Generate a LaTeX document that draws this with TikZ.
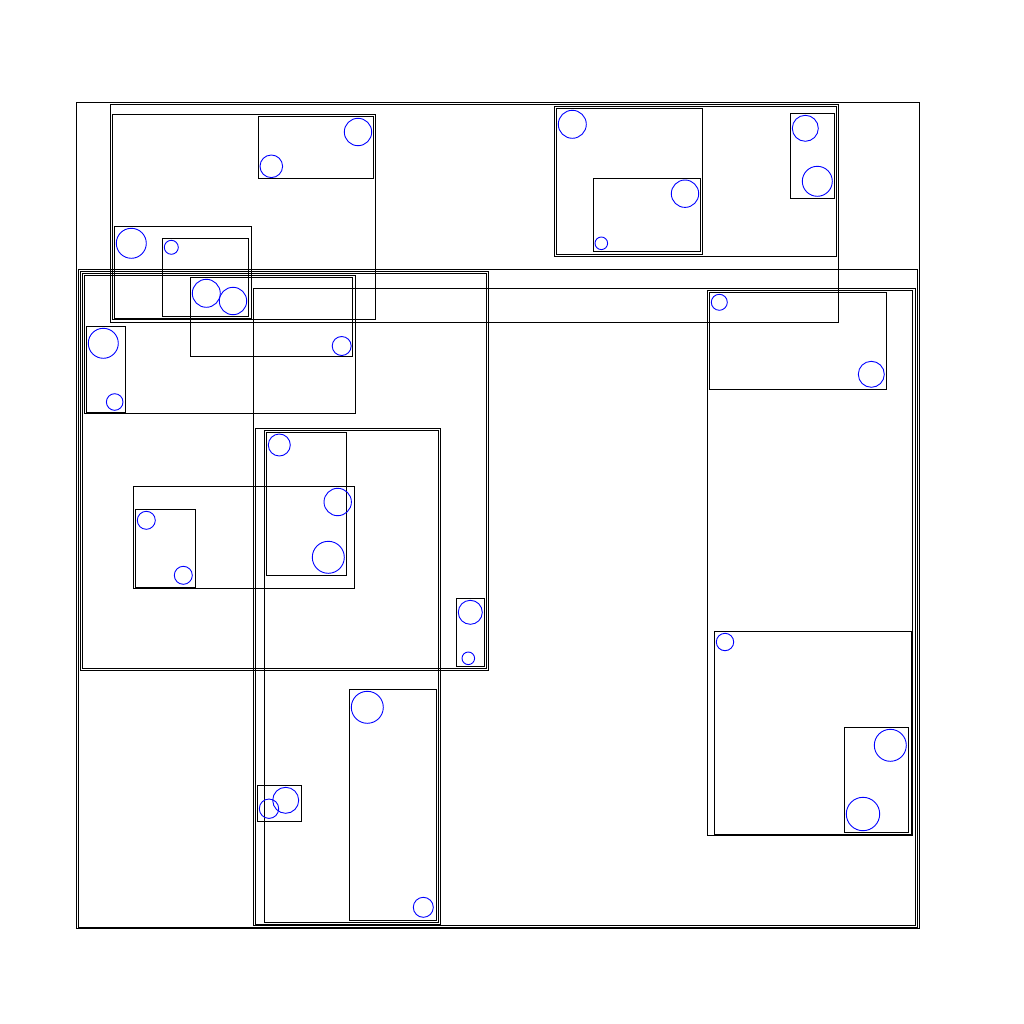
\documentclass[tikz,border=0pt]{standalone}
\begin{document}
\begin{tikzpicture}[x=1pt,y=-1pt,
  box/.style={draw=black,line width=0.9pt},
  pt/.style={draw=blue,line width=0.9pt}]
\useasboundingbox[fill=white] (0,0) rectangle (1024,1024);
% rectangles
\foreach \a/\b/\c/\d in {
 76.3/102.3/919/928.3,
 110.3/104.3/838.3/322.3,
 112.3/114.3/375.3/319.3,
 258.3/116.3/373.7/178.3,
 114.3/226.3/251.3/318.3,
 162.3/238.3/248.3/316.3,
 554.3/106.3/836.7/256,
 556.3/108.3/702.3/254.3,
 593.3/178.3/700.7/251.3,
 790.3/113.3/834.7/198.3,
 78.3/269.3/917.3/927,
 80.3/271.3/488/670,
 82.3/273.3/486.3/668.3,
 84.3/275.3/355.3/413.3,
 86.3/326.3/125.3/412.7,
 190.3/277.3/352.3/356.3,
 133.3/486.3/354.3/588.3,
 135.3/509.3/195.3/587.3,
 266.3/432.3/346.3/575.3,
 456.3/598.3/484.3/666.3,
 253.3/288.3/915.7/925.3,
 255/428.3/440.3/924.3,
 264.3/430.3/438.5/922.3,
 349.3/689.3/436.7/920.3,
 257.3/785.3/301.3/821.3,
 707.3/290.3/912.3/835.3,
 709.3/292.3/886.3/389,
 714.3/631.3/911.7/834.3,
 844.3/727.3/908.7/832.3}
 {\draw[box] (\a,\b) rectangle (\c,\d);}
% circles
\foreach \x/\y/\r in {
 358/132/13.7, 271.3/166.3/11.3, 131.3/243.3/15, 171.3/247.3/7,
 206.3/293.3/14, 233/301/13.7, 341.7/346/9.5, 103.3/343.3/15,
 114.7/402/8.3, 146.3/520.3/9, 183.3/575.3/9, 279.3/445/11,
 337.7/502/13.7, 328.3/557.3/16, 470.3/612.3/12, 468.3/658.3/6.3,
 572.3/124.3/14, 685/193.7/13.7, 601.3/243.3/6.3, 805.3/128.3/13,
 817.3/181.3/15, 719.3/302.3/8, 871.3/374.3/13, 725/642/8.7,
 890.3/745.3/16, 863/814/16.7, 367.3/707.3/16, 423.3/907.3/10,
 285.7/800.3/13, 269/808.7/9.7}
 {\draw[pt] (\x,\y) circle[radius=\r pt];}
\end{tikzpicture}
\end{document}
